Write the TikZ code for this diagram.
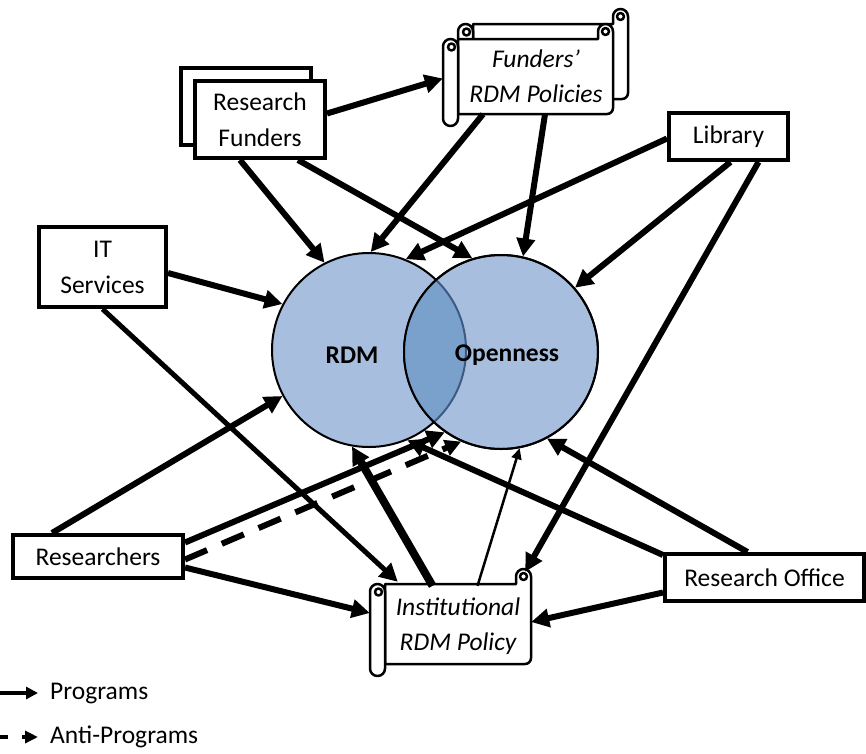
\documentclass[tikz,border=0pt]{standalone}
\usepackage{fontspec}
\setmainfont{Carlito}
\usetikzlibrary{arrows.meta,calc}
\definecolor{cfill}{RGB}{167,190,222}
\definecolor{cover}{RGB}{122,160,204}
\definecolor{darkarc}{RGB}{60,90,130}
\newcommand\drawscrollshape[4]{%
  \filldraw[scrollline] ({#1+15},#2) -- ({#3-15},#2) -- ({#3-15},{#2-7.5})
     arc[start angle=180,end angle=360,radius=7.5] -- (#3,{#4-6})
     arc[start angle=0,end angle=90,radius=6] -- ({#1+15},#4) -- cycle;
  \draw[scrollline,fill=none] ({#3-7.5},{#2-7.5}) circle[radius=3.5];
  \filldraw[scrollline] (#1,{#2+7.5}) arc[start angle=180,end angle=360,radius=7.5]
     -- ({#1+15},{#4+4.5}) arc[start angle=0,end angle=180,radius=7.5] -- cycle;
  \draw[scrollline,fill=none] ({#1+8.5},{#2+8}) circle[radius=3.5];
}
\begin{document}
\begin{tikzpicture}[x=1pt,y=-1pt,
  txt/.style={font=\fontsize{25.5}{36}\selectfont},
  box/.style={txt,draw,line width=4pt,fill=white,inner sep=0pt,align=center},
  stext/.style={inner sep=0pt,align=center,font=\fontsize{25.5}{35}\selectfont\itshape},
  circ/.style={circle,draw,line width=2pt,fill=cfill,minimum size=194pt,inner sep=0pt},
  scrollline/.style={draw,line width=2.5pt,fill=white,line join=round},
  conn/.style={line width=6pt,-{Triangle[length=18pt,width=18pt]}},
  anti/.style={line width=6pt,dash pattern=on 24pt off 16pt,-{Triangle[length=16pt,width=16pt]}},
  thinconn/.style={line width=2.5pt,-{Triangle[length=11pt,width=10pt]}},
  lbl/.style={font=\fontsize{25.5}{28}\selectfont\bfseries}
]
\fill[white] (0,0) rectangle (866,753);
\useasboundingbox (0,0) rectangle (866,753);

% circles
\node[circ] (rdm) at (369,350) {};
\node[circ] (opn) at (501,352) {};
\begin{scope}
  \clip (rdm.center) circle[radius=97];
  \fill[cover] (opn.center) circle[radius=97];
\end{scope}
\begin{scope}
  \clip (opn.center) circle[radius=97];
  \draw[line width=2pt,darkarc] (rdm.center) circle[radius=97];
\end{scope}
\draw[line width=2pt] (opn.center) circle[radius=97];
\node[lbl] (rdml) at (352,355) {RDM};
\node[lbl] (opnl) at (507,355) {Openness};

% scrolls
\drawscrollshape{458}{24}{628}{99}
\drawscrollshape{443}{39}{613}{114}
\node[stext,minimum width=170,minimum height=75] (fp) at (528,76.5)
  {\hspace*{16pt}Funders’\\\hspace*{16pt}RDM Policies};
\drawscrollshape{370}{584}{531}{664}
\node[stext,minimum width=161,minimum height=80] (inst) at (450.5,626)
  {\hspace*{15pt}Institutional\\\hspace*{15pt}RDM Policy};

% boxes
\node[box,minimum width=130,minimum height=77] (rfb) at (246,106.5) {};
\node[box,minimum width=130,minimum height=77] (rf) at (260,119.5) {Research\\Funders};
\node[box,minimum width=127,minimum height=80] (it) at (102.5,267) {IT\\Services};
\node[box,minimum width=119,minimum height=47] (lib) at (728.5,136.5) {Library};
\node[box,minimum width=170,minimum height=43] (res) at (98,556.5) {Researchers};
\node[box,minimum width=199,minimum height=47] (ro) at (764.5,577.5) {Research Office};

% connectors
\draw[conn] ($(rf.east)+(0,-6)$) -- ($(fp.west)+(0,2)$);
\draw[conn] ($(rf.south)+(-20,0)$) -- (rdm.117.6);
\draw[conn] ($(rf.south)+(38,0)$) -- (opn.107.1);
\draw[conn] ($(fp.south)+(-45,0)$) -- (rdm.89.4);
\draw[conn] ($(fp.south)+(17,0)$) -- (opn.77.5);
\draw[conn] ($(lib.west)+(0,2)$) -- (rdm.68.6);
\draw[conn] ($(lib.south)+(2,0)$) -- (opn.41.3);
\draw[conn] ($(lib.south)+(30,0)$) -- ($(inst.north east)+(-6,-14)$);
\draw[conn] ($(it.east)+(0,6)$) -- (rdm.152.6);
\draw[conn,line width=5pt] (it.south) -- ($(inst.north west)+(28,-4)$);
\draw[conn] ($(res.north)+(-46,0)$) -- (rdm.208.9);
\draw[conn] ($(res.east)+(0,-14)$) -- (opn.235.3);
\draw[anti] ($(res.east)+(0,3)$) -- (opn.246);
\draw[conn] ($(res.east)+(0,11)$) -- ($(inst.west)+(0,-13)$);
\draw[conn,line width=8pt] ($(inst.north)+(-18,0)$) -- (rdm.260.2);
\draw[thinconn] ($(inst.north)+(27,0)$) -- (opn.281.2);
\draw[conn] ($(ro.north west)+(0,3)$) -- (rdm.293.8);
\draw[conn] ($(ro.north)+(-17,0)$) -- (opn.298.1);
\draw[conn] ($(ro.west)+(0,15)$) -- ($(inst.east)+(0,-4)$);

% legend
\node[txt,anchor=west,inner sep=0pt] (lgp) at (50,693) {Programs};
\node[txt,anchor=west,inner sep=0pt] (lga) at (50,737) {Anti-Programs};
\coordinate (lp1) at (0,693);
\coordinate (la1) at (0,737);
\draw[line width=4pt,-{Triangle[length=12pt,width=12pt]}] (lp1) -- ($(lgp.west)+(-12,0)$);
\draw[line width=4pt,dash pattern=on 8pt off 14pt,-{Triangle[length=13pt,width=12pt]}] (la1) -- ($(lga.west)+(-12,0)$);
\end{tikzpicture}
\end{document}
